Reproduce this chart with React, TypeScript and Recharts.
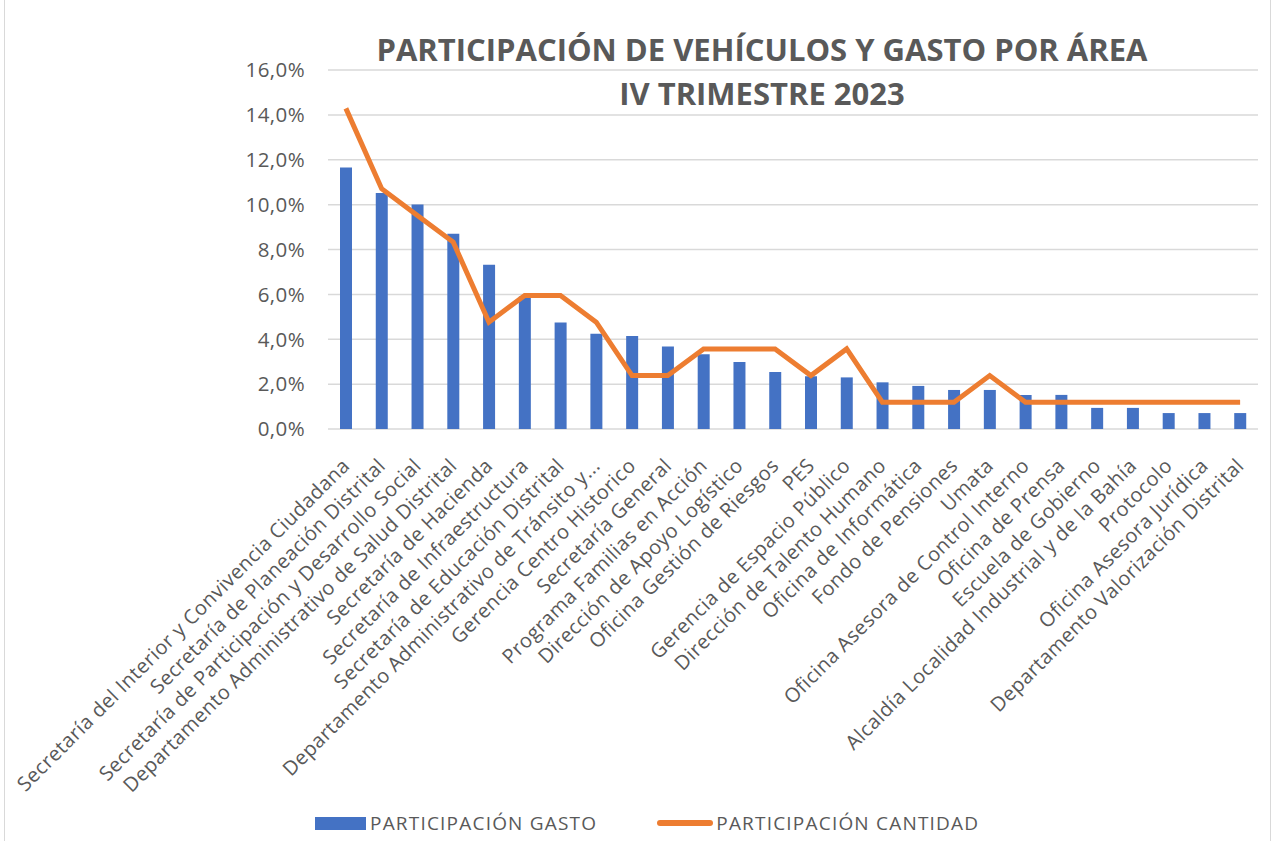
import { ComposedChart, Bar, Line, XAxis, YAxis, CartesianGrid, Legend } from 'recharts';

const categories = [
  'Secretaría del Interior y Convivencia Ciudadana',
  'Secretaría de Planeación Distrital',
  'Secretaría de Participación y Desarrollo Social',
  'Departamento Administrativo de Salud Distrital',
  'Secretaría de Hacienda',
  'Secretaría de Infraestructura',
  'Secretaría de Educación Distrital',
  'Departamento Administrativo de Tránsito y...',
  'Gerencia Centro Historico',
  'Secretaría General',
  'Programa Familias en Acción',
  'Dirección de Apoyo Logístico',
  'Oficina Gestión de Riesgos',
  'PES',
  'Gerencia de Espacio Público',
  'Dirección de Talento Humano',
  'Oficina de Informática',
  'Fondo de Pensiones',
  'Umata',
  'Oficina Asesora de Control Interno',
  'Oficina de Prensa',
  'Escuela de Gobierno',
  'Alcaldía Localidad Industrial y de la Bahía',
  'Protocolo',
  'Oficina Asesora Jurídica',
  'Departamento Valorización Distrital',
];

// participación gasto (%)
const gasto = [
  11.66, 10.52, 10.01, 8.7, 7.32, 5.91, 4.75, 4.25, 4.14, 3.68, 3.33, 2.99, 2.54,
  2.35, 2.3, 2.08, 1.92, 1.74, 1.74, 1.52, 1.52, 0.94, 0.94, 0.71, 0.71, 0.71,
];

// participación cantidad (%)
const cantidad = [
  14.29, 10.71, 9.52, 8.33, 4.76, 5.95, 5.95, 4.76, 2.38, 2.38, 3.57, 3.57, 3.57,
  2.38, 3.57, 1.19, 1.19, 1.19, 2.38, 1.19, 1.19, 1.19, 1.19, 1.19, 1.19, 1.19,
];

const yTicks = [0, 2, 4, 6, 8, 10, 12, 14, 16];

const data = categories.map((name, i) => ({
  name,
  gasto: gasto[i],
  cantidad: cantidad[i],
}));

const TEXT = '#595959';
const FONT = '"Open Sans", sans-serif';

function CategoryTick({ x, y, payload }: any) {
  return (
    <g transform={`translate(${x + 5},${y + 30})`}>
      <text
        transform="rotate(-45)"
        textAnchor="end"
        fontSize={20}
        letterSpacing={0.45}
        fontFamily={FONT}
        fill={TEXT}
      >
        {payload.value}
      </text>
    </g>
  );
}

function LegendContent({ payload }: any) {
  const items = [...(payload || [])].sort((a: any, b: any) => (a.type === 'rect' ? -1 : 1) - (b.type === 'rect' ? -1 : 1));
  return (
    <div
      style={{
        display: 'flex',
        alignItems: 'center',
        fontFamily: FONT,
        fontSize: 19,
        letterSpacing: 1.2,
        color: TEXT,
        lineHeight: '24px',
      }}
    >
      {items.map((p: any) => (
        <div key={p.value} style={{ display: 'flex', alignItems: 'center', marginRight: 60 }}>
          {p.type === 'line' ? (
            <span style={{ width: 56, height: 6, borderRadius: 3, background: p.color, marginRight: 3 }} />
          ) : (
            <span style={{ width: 51, height: 13, background: p.color, marginRight: 4 }} />
          )}
          <span>{p.value}</span>
        </div>
      ))}
    </div>
  );
}

export default function App() {
  return (
    <div style={{ position: 'absolute', left: 0, top: 0, width: 1274, height: 841, background: '#fff' }}>
      <div
        style={{
          position: 'absolute',
          left: 4,
          top: -2,
          width: 1267,
          height: 844,
          border: '1px solid #d9d9d9',
          boxSizing: 'border-box',
        }}
      />
      <div
        style={{
          position: 'absolute',
          left: 262,
          top: 27,
          width: 1000,
          textAlign: 'center',
          fontFamily: FONT,
          fontWeight: 700,
          fontSize: 31,
          lineHeight: '44px',
          color: TEXT,
          zIndex: 2,
        }}
      >
        PARTICIPACIÓN DE VEHÍCULOS Y GASTO POR ÁREA
        <br />
        IV TRIMESTRE 2023
      </div>
      <ComposedChart
        width={1274}
        height={841}
        data={data}
        margin={{ top: 70, right: 16, left: 0, bottom: 52 }}
      >
        <CartesianGrid vertical={false} stroke="#d9d9d9" strokeWidth={1.5} />
        <XAxis
          dataKey="name"
          interval={0}
          height={360}
          axisLine={false}
          tickLine={false}
          tick={<CategoryTick />}
        />
        <YAxis
          width={328}
          domain={[0, 16]}
          ticks={yTicks}
          axisLine={false}
          tickLine={false}
          tickMargin={17}
          tickFormatter={(v: number) => `${v.toFixed(1).replace('.', ',')}%`}
          tick={{ fontSize: 20.5, fill: TEXT, fontFamily: FONT, letterSpacing: 0.4 }}
        />
        <Bar
          dataKey="gasto"
          name="PARTICIPACIÓN GASTO"
          fill="#4472C4"
          barSize={12}
          isAnimationActive={false}
          legendType="rect"
        />
        <Line
          dataKey="cantidad"
          name="PARTICIPACIÓN CANTIDAD"
          type="linear"
          stroke="#ED7D31"
          strokeWidth={5}
          dot={false}
          activeDot={false}
          isAnimationActive={false}
          legendType="line"
        />
        <Legend
          verticalAlign="middle"
          align="center"
          layout="horizontal"
          content={<LegendContent />}
          wrapperStyle={{ top: 811, left: 315, width: 900, height: 24 }}
        />
      </ComposedChart>
    </div>
  );
}
